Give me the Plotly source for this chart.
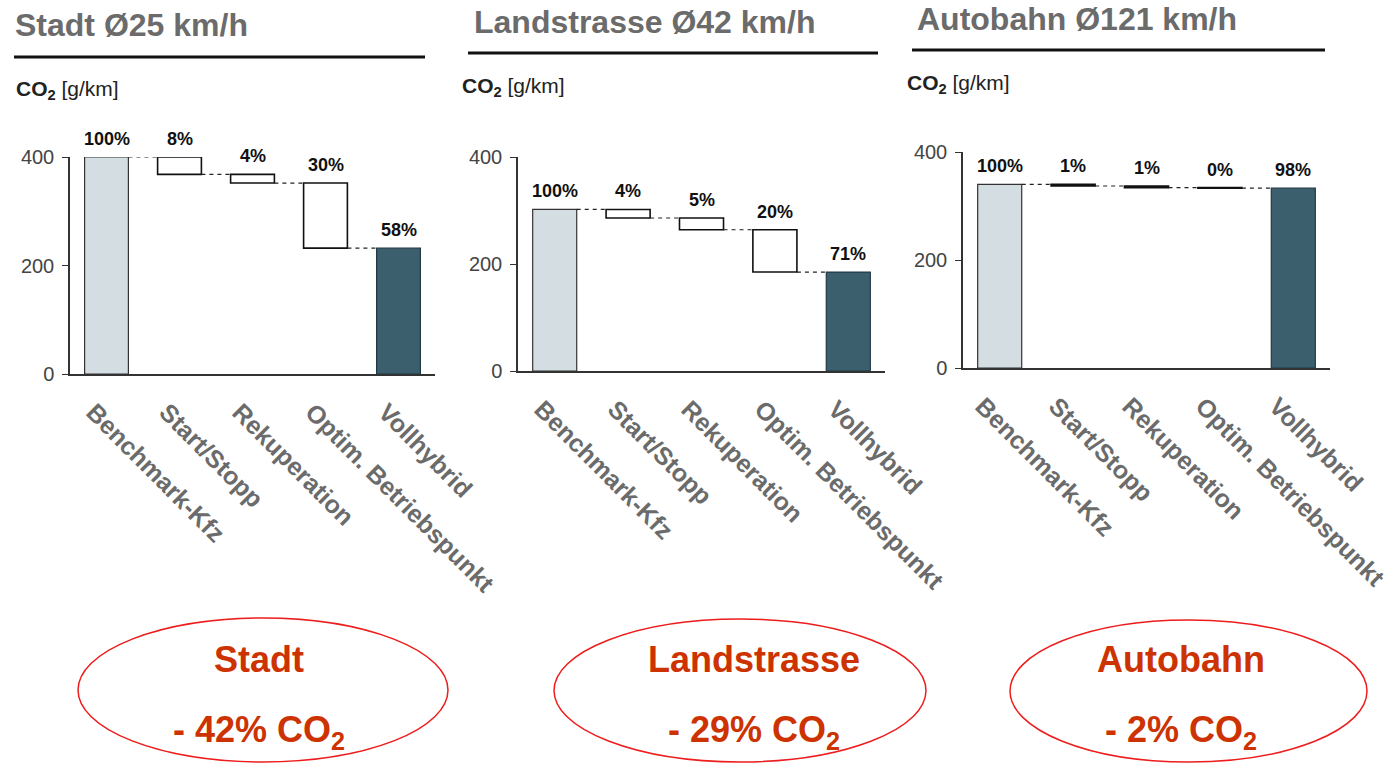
import plotly.graph_objects as go

W, H = 1395, 763

# Measures shown in every panel (x-axis categories)
categories = ["Benchmark-Kfz", "Start/Stopp", "Rekuperation",
              "Optim. Betriebspunkt", "Vollhybrid"]

# CO2 emissions in g/km: benchmark vehicle, reductions per measure, full hybrid
stadt_start = 400
stadt_steps = [32, 16, 120]
stadt_pct = ["100%", "8%", "4%", "30%", "58%"]

land_start = 302
land_steps = [16, 22, 79]
land_pct = ["100%", "4%", "5%", "20%", "71%"]

bahn_start = 340
bahn_steps = [3, 3, 1]
bahn_pct = ["100%", "1%", "1%", "0%", "98%"]

panel_titles = ["Stadt Ø25 km/h", "Landstrasse Ø42 km/h", "Autobahn Ø121 km/h"]
summary_names = ["Stadt", "Landstrasse", "Autobahn"]
summary_reduction = ["- 42%", "- 29%", "- 2%"]

y_ticks = [0, 200, 400]

GREY_TXT = "#6b6b6b"
RED_TXT = "#cc3300"
LIGHT = "#d3dde2"
DARK = "#3b5f6d"
SANS = "Arial, Liberation Sans, sans-serif"


def px_x(x):
    return x / W


def px_y(y):
    return 1 - y / H


# Pixel frames of the three plot areas: (x_left, x_right, y_zero, y_400)
frames = [(70, 435, 374, 157), (518, 885, 371, 157), (963, 1330, 368, 152)]
# Title placement: (title_x, title_y, rule_x0, rule_x1, rule_y, co2_x, co2_y)
headers = [(13, 25, 14, 425, 57, 14, 90),
           (472, 22, 468, 878, 53, 460, 87),
           (915, 19, 912, 1325, 50, 905, 84)]
# Summary ellipses: (x0, x1, y_top, y_bottom) and text centre x
ellipses = [(78, 448, 618, 762), (554, 926, 619, 762), (1010, 1367, 620, 762)]
summary_cx = [259, 754, 1181]
# horizontal shift of the slanted category labels per panel
label_shift = [-13, -13, -17]

panels = [(stadt_start, stadt_steps, stadt_pct),
          (land_start, land_steps, land_pct),
          (bahn_start, bahn_steps, bahn_pct)]

fig = go.Figure()
half = 0.3  # half bar width in category units

for k, (start, steps, pct) in enumerate(panels):
    xa = "x" if k == 0 else f"x{k + 1}"
    ya = "y" if k == 0 else f"y{k + 1}"

    # running levels of the waterfall: start, after each reduction
    levels = [start]
    for s in steps:
        levels.append(levels[-1] - s)
    final = levels[-1]

    # benchmark bar
    fig.add_trace(go.Bar(x=[0], y=[start], width=2 * half, xaxis=xa, yaxis=ya,
                         marker=dict(color=LIGHT, line=dict(color="#333333", width=1.2)),
                         showlegend=False, hoverinfo="skip"))
    # floating reduction boxes
    fig.add_trace(go.Bar(x=[1, 2, 3], y=steps, base=levels[1:], width=2 * half,
                         xaxis=xa, yaxis=ya,
                         marker=dict(color="white", line=dict(color="#111111", width=1.6)),
                         showlegend=False, hoverinfo="skip"))
    # full hybrid bar
    fig.add_trace(go.Bar(x=[4], y=[final], width=2 * half, xaxis=xa, yaxis=ya,
                         marker=dict(color=DARK, line=dict(color="#1f3a46", width=1.2)),
                         showlegend=False, hoverinfo="skip"))

    # dashed connectors between consecutive bars
    cx, cy = [], []
    for i in range(4):
        lvl = levels[i]
        cx += [i + half, i + 1 - half, None]
        cy += [lvl, lvl, None]
    fig.add_trace(go.Scatter(x=cx, y=cy, mode="lines", xaxis=xa, yaxis=ya,
                             line=dict(color="#222222", width=1.2, dash="4px,4px"),
                             showlegend=False, hoverinfo="skip"))

    # percentage labels above each bar
    tops = [start, levels[0], levels[1], levels[2], final]
    for i, (top, label) in enumerate(zip(tops, pct)):
        fig.add_annotation(x=i, y=top, xref=xa, yref=ya, text=f"<b>{label}</b>",
                           xanchor="center", yanchor="bottom", yshift=6,
                           showarrow=False,
                           font=dict(family=SANS, size=18, color="#111111"))

    x0, x1, yz, y4 = frames[k]
    xkey = "xaxis" if k == 0 else f"xaxis{k + 1}"
    ykey = "yaxis" if k == 0 else f"yaxis{k + 1}"
    fig.layout[xkey] = dict(
        domain=[px_x(x0), px_x(x1)], range=[-0.5, 4.5], anchor=ya,
        tickvals=list(range(5)), ticktext=categories, tickangle=45,
        tickfont=dict(family=SANS, size=25, color=GREY_TXT, weight="bold"),
        ticklabelstandoff=12, ticklabelshift=label_shift[k], ticklabeloverflow="allow",
        showline=True, linecolor="#333333", linewidth=1.5, ticks="",
        showgrid=False, zeroline=False, fixedrange=True, automargin=False)
    fig.layout[ykey] = dict(
        domain=[px_y(yz), px_y(y4)], range=[0, 400], anchor=xa,
        tickvals=y_ticks, ticks="outside", ticklen=6, tickcolor="#333333",
        tickfont=dict(family=SANS, size=20, color="#444444"),
        ticklabelstandoff=4,
        showline=True, linecolor="#333333", linewidth=1.5,
        showgrid=False, zeroline=False, fixedrange=True, automargin=False)

    tx, ty, rx0, rx1, ry, cox, coy = headers[k]
    fig.add_annotation(x=px_x(tx), y=px_y(ty), xref="paper", yref="paper",
                       xanchor="left", yanchor="middle", showarrow=False,
                       text=f"<b>{panel_titles[k]}</b>",
                       font=dict(family=SANS, size=32, color=GREY_TXT))
    fig.add_shape(type="line", xref="paper", yref="paper",
                  x0=px_x(rx0), x1=px_x(rx1), y0=px_y(ry), y1=px_y(ry),
                  line=dict(color="#111111", width=3))
    fig.add_annotation(x=px_x(cox), y=px_y(coy), xref="paper", yref="paper",
                       xanchor="left", yanchor="middle", showarrow=False,
                       text="<b>CO<sub>2</sub></b> [g/km]",
                       font=dict(family=SANS, size=21, color="#222222"))

    ex0, ex1, et, eb = ellipses[k]
    fig.add_shape(type="circle", xref="paper", yref="paper",
                  x0=px_x(ex0), x1=px_x(ex1), y0=px_y(eb), y1=px_y(et),
                  line=dict(color="#ee1c1c", width=1.5))
    ecx = summary_cx[k]
    fig.add_annotation(x=px_x(ecx), y=px_y(659), xref="paper", yref="paper",
                       xanchor="center", yanchor="middle", showarrow=False,
                       text=f"<b>{summary_names[k]}</b>",
                       font=dict(family=SANS, size=36, color=RED_TXT))
    fig.add_annotation(x=px_x(ecx), y=px_y(732), xref="paper", yref="paper",
                       xanchor="center", yanchor="middle", showarrow=False,
                       text=f"<b>{summary_reduction[k]} CO<sub>2</sub></b>",
                       font=dict(family=SANS, size=36, color=RED_TXT))

fig.update_layout(width=W, height=H, margin=dict(l=0, r=0, t=0, b=0),
                  paper_bgcolor="white", plot_bgcolor="white",
                  barmode="overlay", showlegend=False)

fig.write_html("out.html", config={"displayModeBar": False})
